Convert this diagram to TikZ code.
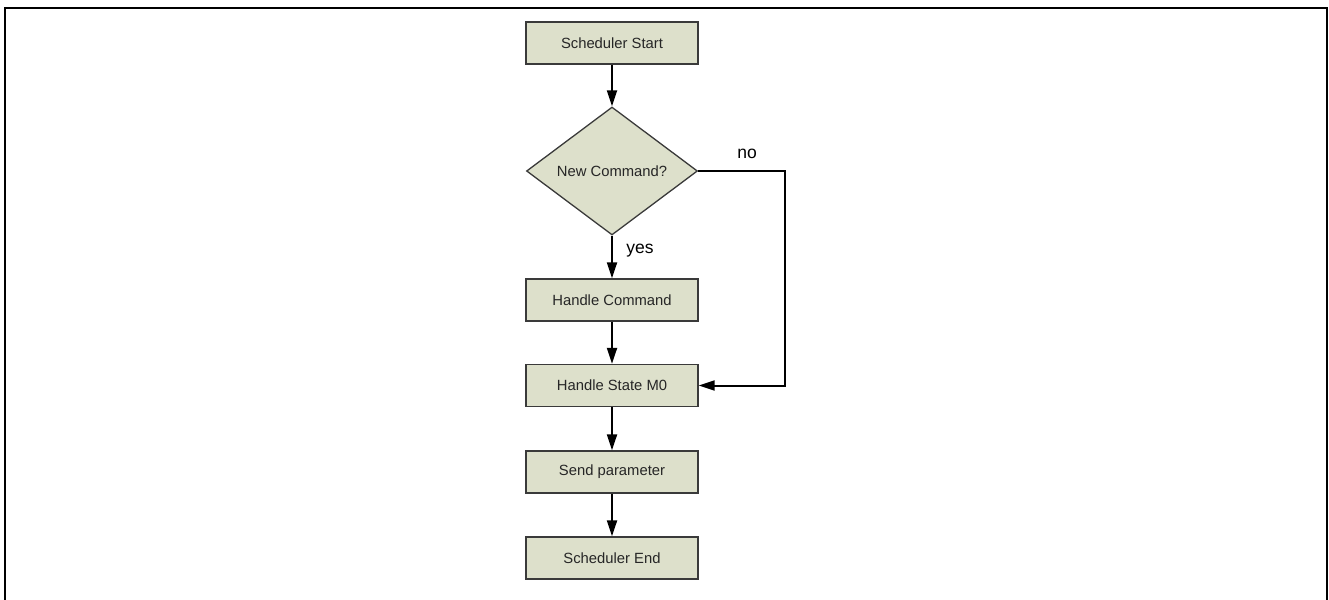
\documentclass[tikz,border=0pt]{standalone}
\usepackage{fontspec}
\setmainfont{Liberation Sans}
\usetikzlibrary{arrows.meta,shapes.geometric}
\definecolor{boxfill}{HTML}{DDE0CB}
\definecolor{boxline}{HTML}{3A3A3A}
\begin{document}
\begin{tikzpicture}[x=1pt,y=-1pt,
  procbox/.style={draw=boxline,line width=1.3pt,fill=boxfill,minimum width=172pt,minimum height=42pt,inner sep=0pt,font=\fontsize{14.8}{16}\selectfont,text=black!85},
  decide/.style={diamond,draw=boxline,line width=1.3pt,fill=boxfill,minimum width=171pt,minimum height=128pt,inner sep=0pt,font=\fontsize{14.8}{16}\selectfont,text=black!85},
  flow/.style={draw=black,line width=2pt,-{Triangle[width=10pt,length=16pt]}},
  lbl/.style={font=\fontsize{17.5}{19}\selectfont,text=black}]
\useasboundingbox (0,0) rectangle (1329,599);
\draw[line width=2.2pt,black] (5,600) -- (5,8) -- (1327,8) -- (1327,600);
\node[procbox] (start) at (612,43) {Scheduler Start};
\node[decide] (cmd) at (612,171) {New Command?};
\node[procbox] (handle) at (612,300) {Handle Command};
\node[procbox] (state) at (612,385.5) {Handle State M0};
\node[procbox] (send) at (612,472) {Send parameter};
\node[procbox] (end) at (612,558) {Scheduler End};
\coordinate (bend) at (785,171);
\draw[flow] (start) -- (cmd);
\draw[flow] (cmd) -- (handle);
\draw[flow] (handle) -- (state);
\draw[flow] (state) -- (send);
\draw[flow] (send) -- (end);
\draw[flow] (cmd.east) -- (bend) |- (state.east);
\node[lbl] (yes) at (640,251) {yes};
\node[lbl] (no) at (747,154) {no};
\end{tikzpicture}
\end{document}
